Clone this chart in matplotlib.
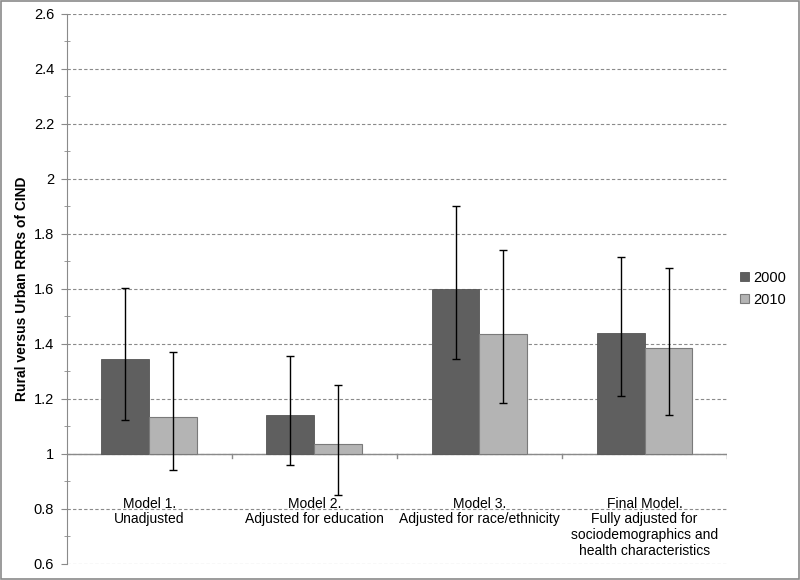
import matplotlib.pyplot as plt
import numpy as np
from matplotlib.ticker import MultipleLocator

plt.rcParams['font.family'] = ['Liberation Sans', 'DejaVu Sans']

models = ['Model 1.\nUnadjusted', 'Model 2.\nAdjusted for education',
          'Model 3.\nAdjusted for race/ethnicity',
          'Final Model.\nFully adjusted for\nsociodemographics and\nhealth characteristics']
rrr_2000 = [1.345, 1.14, 1.60, 1.44]
low_2000 = [1.125, 0.96, 1.345, 1.21]
high_2000 = [1.605, 1.355, 1.90, 1.715]
rrr_2010 = [1.135, 1.035, 1.435, 1.385]
low_2010 = [0.94, 0.85, 1.185, 1.14]
high_2010 = [1.37, 1.25, 1.74, 1.675]

fig = plt.figure(figsize=(8, 5.8), dpi=100)
ax = fig.add_axes([0.0834, 0.0276, 0.8255, 0.9483])

x = np.arange(len(models))
w = 0.29
base = 1.0
h00 = np.array(rrr_2000) - base
h10 = np.array(rrr_2010) - base
ax.bar(x - w / 2, h00, w, bottom=base, color='#5f5f5f', edgecolor='#555555', linewidth=0.6, label='2000', zorder=2)
ax.bar(x + w / 2, h10, w, bottom=base, color='#b4b4b4', edgecolor='#7a7a7a', linewidth=0.8, label='2010', zorder=2)

err00 = [np.array(rrr_2000) - low_2000, np.array(high_2000) - rrr_2000]
err10 = [np.array(rrr_2010) - low_2010, np.array(high_2010) - rrr_2010]
ax.errorbar(x - w / 2, rrr_2000, yerr=err00, fmt='none', ecolor='black', elinewidth=1, capsize=3, capthick=1, zorder=3)
ax.errorbar(x + w / 2, rrr_2010, yerr=err10, fmt='none', ecolor='black', elinewidth=1, capsize=3, capthick=1, zorder=3)

ax.set_xlim(-0.5, len(models) - 0.5)
ax.set_ylim(0.6, 2.6)
ax.yaxis.set_minor_locator(MultipleLocator(0.1))
ax.set_yticks(np.arange(0.6, 2.61, 0.2))
ax.set_yticklabels(['0.6', '0.8', '1', '1.2', '1.4', '1.6', '1.8', '2', '2.2', '2.4', '2.6'], fontsize=10.5)
ax.yaxis.grid(True, which='major', linestyle=(0, (3, 2)), color='#8a8a8a', linewidth=0.8, zorder=0)
ax.tick_params(axis='y', which='major', direction='out', length=4, color='#8a8a8a', pad=5)
ax.tick_params(axis='y', which='minor', direction='inout', length=5, color='#8a8a8a')
ax.set_xticks([])

for s in ['top', 'right', 'bottom']:
    ax.spines[s].set_visible(False)
ax.spines['left'].set_color('#8a8a8a')

# category axis drawn at 1
ax.axhline(1.0, color='#8a8a8a', linewidth=1, zorder=1)
for b in np.arange(0.5, len(models), 1.0):
    ax.plot([b, b], [1.0, 0.985], color='#8a8a8a', linewidth=1, zorder=1)

for i, m in enumerate(models):
    ax.text(i, 0.845, m, ha='center', va='top', fontsize=10, linespacing=1.15, zorder=4)

ax.set_ylabel('Rural versus Urban RRRs of CIND', fontsize=10, fontweight='bold')
ax.yaxis.set_label_coords(-0.057, 0.5)

ax.legend(loc='center left', bbox_to_anchor=(1.0, 0.5), frameon=False, fontsize=10.5,
          handlelength=0.6, handleheight=0.6, handletextpad=0.3, labelspacing=0.55)

fig.patches.append(plt.Rectangle((0.001, 0.001), 0.998, 0.998, transform=fig.transFigure,
                                 fill=False, edgecolor='#8a8a8a', linewidth=1.2))

fig.savefig('out.png', dpi=100)
